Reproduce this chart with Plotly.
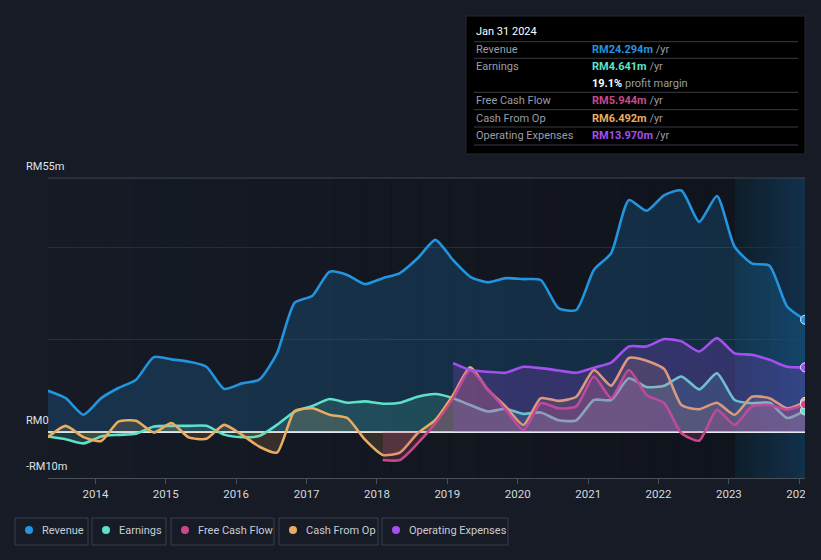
import plotly.graph_objects as go

# ---------------- data (RM millions) ----------------
dates = [
    "2013-04-30", "2013-07-31", "2013-10-31", "2014-01-31", "2014-04-30", "2014-07-31", "2014-10-31",
    "2015-01-31", "2015-04-30", "2015-07-31", "2015-10-31", "2016-01-31", "2016-04-30", "2016-07-31",
    "2016-10-31", "2017-01-31", "2017-04-30", "2017-07-31", "2017-10-31", "2018-01-31", "2018-04-30",
    "2018-07-31", "2018-10-31", "2019-01-31", "2019-04-30", "2019-07-31", "2019-10-31", "2020-01-31",
    "2020-04-30", "2020-07-31", "2020-10-31", "2021-01-31", "2021-04-30", "2021-07-31", "2021-10-31",
    "2022-01-31", "2022-04-30", "2022-07-31", "2022-10-31", "2023-01-31", "2023-04-30", "2023-07-31",
    "2023-10-31", "2024-01-31",
]
revenue = [8.9, 7.3, 3.7, 7.3, 9.5, 11.3, 16.2, 15.7, 15.2, 14.1, 9.3, 10.5, 11.3, 17.0, 28.0,
           29.5, 34.7, 34.0, 32.0, 33.3, 34.4, 37.6, 41.6, 37.2, 33.6, 32.4, 33.3, 33.1, 32.9,
           26.8, 26.4, 35.1, 38.7, 50.2, 47.9, 51.3, 52.3, 45.5, 51.1, 40.1, 36.5, 36.0, 27.1, 24.294]
earnings = [-1.0, -1.6, -2.5, -1.0, -0.65, -0.4, 1.15, 1.3, 1.3, 1.3, -0.6, -1.15, -0.9, 1.5, 4.4,
            5.6, 7.1, 6.3, 6.6, 6.1, 6.3, 7.6, 8.2, 7.3, 5.8, 4.4, 5.0, 3.9, 4.2, 2.5, 2.5, 6.9,
            6.9, 11.6, 9.7, 10.0, 12.0, 9.2, 12.7, 6.9, 6.2, 6.3, 3.0, 4.641]
cash_from_op = [-1.15, 1.3, -1.15, -2.0, 2.2, 2.4, -0.15, 1.9, -1.2, -1.5, 1.5, -0.65, -3.2, -4.5,
                4.5, 5.1, 3.7, 3.0, -1.7, -5.0, -4.5, -0.3, 2.6, 8.0, 14.0, 9.1, 5.5, 1.5, 7.3,
                6.7, 7.6, 13.4, 10.0, 16.0, 15.4, 13.6, 5.8, 4.9, 6.3, 3.7, 7.6, 7.3, 5.1, 6.492]
free_cash_flow = [None] * 19 + [-6.1, -6.1, -2.5, 1.9, 7.3, 13.4, 9.2, 4.8, 0.4, 6.2, 5.1, 5.5,
                                12.0, 7.3, 13.4, 8.0, 6.2, -0.3, -1.9, 4.8, 1.5, 5.5, 5.8, 4.8, 5.944]
operating_expenses = [None] * 23 + [14.9, 13.4, 13.0, 12.8, 14.1, 13.8, 13.3, 12.8, 13.9, 15.0,
                                    18.5, 18.5, 20.1, 19.6, 17.4, 20.3, 17.0, 16.7, 15.6, 14.1, 13.97]

year_ticks = ["2014", "2015", "2016", "2017", "2018", "2019", "2020", "2021", "2022", "2023", "2024"]

tooltip_date = "Jan 31 2024"
tooltip_rows = [
    ("Revenue", "RM24.294m", "#2394df"),
    ("Earnings", "RM4.641m", "#5fe0c8"),
    ("Free Cash Flow", "RM5.944m", "#c8488a"),
    ("Cash From Op", "RM6.492m", "#e9ad62"),
    ("Operating Expenses", "RM13.970m", "#a54ff0"),
]
profit_margin = "19.1%"

series = [
    ("Revenue", revenue, "#2394df", "rgba(35,148,223,0.20)"),
    ("Earnings", earnings, "#5fe0c8", "rgba(95,224,200,0.16)"),
    ("Cash From Op", cash_from_op, "#e9ad62", "rgba(233,173,98,0.16)"),
    ("Free Cash Flow", free_cash_flow, "#c8488a", "rgba(200,72,138,0.22)"),
    ("Operating Expenses", operating_expenses, "#a54ff0", "rgba(165,79,240,0.22)"),
]
legend_items = [
    ("Revenue", "#2394df"), ("Earnings", "#5fe0c8"), ("Free Cash Flow", "#c8488a"),
    ("Cash From Op", "#e9ad62"), ("Operating Expenses", "#a54ff0"),
]

# ---------------- layout geometry (pixels) ----------------
W, H = 821, 560
L, R, T, B = 48, 805, 178, 478
PW, PH = R - L, B - T
PAPER = "#161b26"


def px(x):
    return (x - L) / PW


def py(y):
    return (B - y) / PH


fig = go.Figure()

for name, vals, col, fillcol in series:
    fig.add_trace(go.Scatter(
        x=dates, y=vals, name=name, mode="lines",
        line=dict(color=col, width=2.6, shape="spline", smoothing=0.6),
        fill="tozeroy", fillcolor=fillcol, hoverinfo="skip", showlegend=False,
    ))

# end-point markers
for name, vals, col, fillcol in series:
    fig.add_trace(go.Scatter(
        x=[dates[-1]], y=[vals[-1]], mode="markers",
        marker=dict(color=col, size=9, line=dict(color="#e8eef5", width=1)),
        hoverinfo="skip", showlegend=False,
    ))

shapes = []
# plot background darkening gradient (left -> right)
n = 24
hl_start = 735
for i in range(n):
    x0 = L + (hl_start - L) * i / n
    x1 = L + (hl_start - L) * (i + 1) / n
    op = 0.36 * (i + 0.5) / n
    shapes.append(dict(type="rect", xref="paper", yref="paper", x0=px(x0), x1=px(x1) + 0.0005,
                       y0=0, y1=1, fillcolor=f"rgba(6,8,12,{op:.3f})", line=dict(width=0), layer="below"))
# highlight (last year) gradient
m = 14
c0, c1 = (15, 30, 42), (18, 49, 75)
for i in range(m):
    t = (i + 0.5) / m
    c = tuple(int(c0[k] + (c1[k] - c0[k]) * t) for k in range(3))
    x0 = hl_start + (R - hl_start) * i / m
    x1 = hl_start + (R - hl_start) * (i + 1) / m
    shapes.append(dict(type="rect", xref="paper", yref="paper", x0=px(x0), x1=px(x1) + 0.0005,
                       y0=0, y1=1, fillcolor=f"rgb{c}", line=dict(width=0), layer="below"))
# top border line
shapes.append(dict(type="line", xref="paper", yref="paper", x0=0, x1=1, y0=1, y1=1,
                   line=dict(color="#40454f", width=1)))
# clip strip to the right of the plot
shapes.append(dict(type="rect", xref="paper", yref="paper", x0=1.0, x1=px(W + 2),
                   y0=py(H), y1=py(0), fillcolor=PAPER, line=dict(width=0), layer="above"))

annotations = []
# y labels
for txt, yy in [("RM55m", 166), ("RM0", 420), ("-RM10m", 466)]:
    annotations.append(dict(text=txt, x=px(24), y=py(yy), xref="paper", yref="paper",
                            xanchor="left", yanchor="middle", showarrow=False,
                            font=dict(color="#dfe3e8", size=11, family="Roboto")))

# tooltip box
shapes.append(dict(type="rect", xref="paper", yref="paper", x0=px(466), x1=px(805),
                   y0=py(154), y1=py(16), fillcolor="#000000", line=dict(color="#25282e", width=1),
                   layer="above"))
annotations.append(dict(text=tooltip_date, x=px(474), y=py(31), xref="paper", yref="paper",
                        xanchor="left", yanchor="middle", showarrow=False,
                        font=dict(color="#ffffff", size=11, family="Roboto")))
for yy in [41.7, 58.3, 92.3, 109.7, 127, 145]:
    shapes.append(dict(type="line", xref="paper", yref="paper", x0=px(474), x1=px(798),
                       y0=py(yy), y1=py(yy), line=dict(color="#3a3d42", width=1), layer="above"))
row_y = [49.5, 66.5, 100.5, 118, 135]
for (lab, val, col), yy in zip(tooltip_rows, row_y):
    annotations.append(dict(text=lab, x=px(474), y=py(yy), xref="paper", yref="paper",
                            xanchor="left", yanchor="middle", showarrow=False,
                            font=dict(color="#9a9ea5", size=11, family="Roboto")))
    annotations.append(dict(text=f"<b><span style='color:{col}'>{val}</span></b> <span style='color:#9a9ea5'>/yr</span>",
                            x=px(590), y=py(yy), xref="paper", yref="paper",
                            xanchor="left", yanchor="middle", showarrow=False,
                            font=dict(size=11, family="Roboto")))
annotations.append(dict(text=f"<b><span style='color:#ffffff'>{profit_margin}</span></b> <span style='color:#9a9ea5'>profit margin</span>",
                        x=px(590), y=py(83.5), xref="paper", yref="paper",
                        xanchor="left", yanchor="middle", showarrow=False,
                        font=dict(size=11, family="Roboto")))

# custom legend
boxes = [(15, 88), (92, 166), (171, 274), (279, 378), (382, 508)]
for (lab, col), (bx0, bx1) in zip(legend_items, boxes):
    shapes.append(dict(type="rect", xref="paper", yref="paper", x0=px(bx0), x1=px(bx1),
                       y0=py(545), y1=py(518), line=dict(color="#3a3f4a", width=1),
                       fillcolor="rgba(0,0,0,0)", layer="above"))
    cx = bx0 + 14
    shapes.append(dict(type="circle", xref="paper", yref="paper", x0=px(cx - 4), x1=px(cx + 4),
                       y0=py(534), y1=py(526), fillcolor=col, line=dict(width=0), layer="above"))
    annotations.append(dict(text=lab, x=px(bx0 + 25), y=py(530.5), xref="paper", yref="paper",
                            xanchor="left", yanchor="middle", showarrow=False,
                            font=dict(color="#c9ccd2", size=11, family="Roboto")))

fig.update_layout(
    width=W, height=H,
    margin=dict(l=L, r=W - R, t=T, b=H - B, pad=0, autoexpand=False),
    paper_bgcolor=PAPER, plot_bgcolor=PAPER,
    shapes=shapes, annotations=annotations, showlegend=False,
    font=dict(family="Roboto", color="#d0d4da"),
    xaxis=dict(
        type="date", range=[dates[0], dates[-1]], automargin=False,
        tickvals=[f"{y}-01-01" for y in year_ticks], ticktext=year_ticks,
        showgrid=False, zeroline=False, showline=True, linecolor="#4a4f58", linewidth=1,
        ticks="outside", ticklen=5, tickcolor="#4a4f58",
        tickfont=dict(color="#d6d9de", size=11.5, family="Roboto"),
    ),
    yaxis=dict(
        range=[-10, 55], tickvals=[20, 40], showticklabels=False, automargin=False,
        showgrid=True, gridcolor="#272c36", gridwidth=1,
        zeroline=True, zerolinecolor="#e6e8eb", zerolinewidth=1.5,
        showline=False, fixedrange=True,
    ),
)

fig.write_html(
    "out.html",
    config={"displayModeBar": False},
    post_script="document.body.style.margin='0';document.body.style.background='#161b26';"
                "document.documentElement.style.overflow='hidden';",
)
